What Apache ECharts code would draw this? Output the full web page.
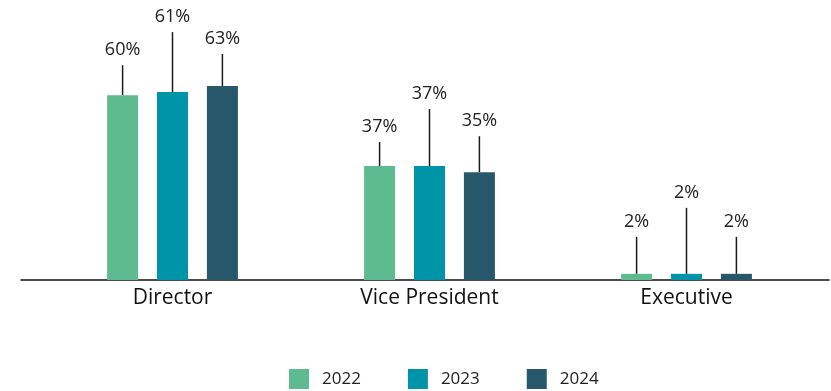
<!DOCTYPE html>
<html>
<head>
<meta charset="utf-8">
<script src="https://cdn.jsdelivr.net/npm/echarts@6/dist/echarts.min.js"></script>
<style>
  html, body { margin: 0; padding: 0; background: #ffffff; }
  #chart { width: 831px; height: 391px; }
</style>
</head>
<body>
<div id="chart"></div>
<script>
// Share of roles held, by level and year (%)
const categories = ['Director', 'Vice President', 'Executive'];
const years = ['2022', '2023', '2024'];
const values2022 = [60, 37, 2];
const values2023 = [61, 37, 2];
const values2024 = [63, 35, 2];

// Presentation settings
const colors = ['#5EBB8F', '#0094A8', '#26576B'];
// How far (px) the centre of each value label sits above its bar, per series
const labelRise = [
  [45, 39, 52],
  [75, 72, 81],
  [47, 51, 52]
];
const FONT = '"Open Sans", "Noto Sans", sans-serif';
const LABEL_SIZE = 18;
const LABEL_DIST = 3;
const LABEL_PAD = 6;

const seriesValues = [values2022, values2023, values2024];

const chart = echarts.init(document.getElementById('chart'), null, { renderer: 'canvas' });

const series = seriesValues.map((vals, si) => ({
  name: years[si],
  type: 'bar',
  xAxisIndex: 0,
  yAxisIndex: 0,
  data: vals,
  barWidth: 31,
  barGap: '61%',
  itemStyle: { color: colors[si] },
  label: {
    show: true,
    position: 'top',
    distance: LABEL_DIST,
    padding: [0, 0, LABEL_PAD, 0],
    lineHeight: LABEL_SIZE,
    formatter: p => p.value + '%',
    color: '#222',
    fontFamily: FONT,
    fontSize: LABEL_SIZE
  },
  labelLayout: function (p) {
    const base = LABEL_DIST + LABEL_PAD + LABEL_SIZE / 2;
    return { dy: -(labelRise[si][p.dataIndex] - base) };
  },
  labelLine: {
    show: true,
    lineStyle: { color: '#1a1a1a', width: 1.5 }
  },
  emphasis: { disabled: true },
  animation: false
}));

// Full-width baseline drawn by a second, label-free axis
series.push({
  type: 'line',
  xAxisIndex: 1,
  yAxisIndex: 1,
  data: [],
  silent: true
});

chart.setOption({
  animation: false,
  color: colors,
  grid: [
    { left: 44, right: 16, top: 33.6, bottom: 111 },
    { left: 21, right: 2, top: 33.6, bottom: 111 }
  ],
  legend: {
    data: years,
    top: 369,
    left: 289,
    padding: 0,
    itemWidth: 20,
    itemHeight: 20,
    itemGap: 47,
    icon: 'rect',
    textStyle: { fontFamily: FONT, fontSize: 17, color: '#222', padding: [0, 0, 0, 8] }
  },
  xAxis: [
    {
      type: 'category',
      data: categories,
      gridIndex: 0,
      axisLine: { show: false },
      axisTick: { show: false },
      axisLabel: { fontFamily: FONT, fontSize: 21, color: '#111', margin: 8 }
    },
    {
      type: 'value',
      gridIndex: 1,
      min: 0,
      max: 1,
      axisLine: { show: true, onZero: false, lineStyle: { color: '#111', width: 1.5 } },
      axisTick: { show: false },
      axisLabel: { show: false },
      splitLine: { show: false }
    }
  ],
  yAxis: [
    { type: 'value', gridIndex: 0, min: 0, max: 80, show: false },
    { type: 'value', gridIndex: 1, min: 0, max: 80, show: false }
  ],
  series: series
});
</script>
</body>
</html>
